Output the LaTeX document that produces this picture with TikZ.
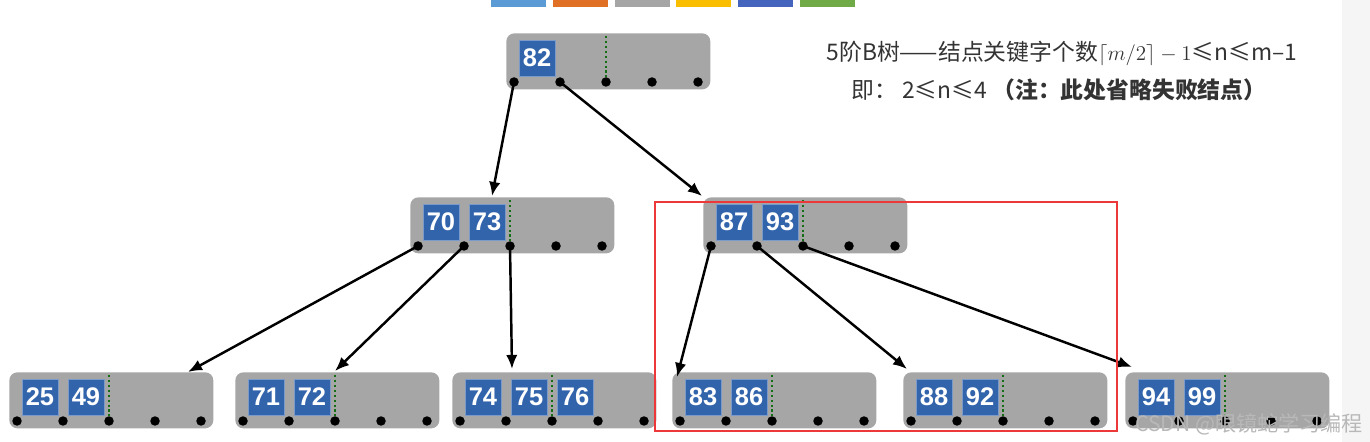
\documentclass[tikz,border=0pt]{standalone}
\usepackage{fontspec}
\setmainfont{Liberation Sans}
\newfontfamily\cjk{Noto Sans CJK SC}
\usepackage{tikz}
\usetikzlibrary{arrows.meta}

\definecolor{keyblue}{RGB}{50,100,172}
\definecolor{nodegray}{RGB}{166,166,166}
\definecolor{halfgreen}{RGB}{20,110,20}
\definecolor{boxred}{RGB}{236,56,56}
\definecolor{barblue}{RGB}{91,155,213}
\definecolor{barorange}{RGB}{224,112,36}
\definecolor{bargray}{RGB}{165,165,165}
\definecolor{baryellow}{RGB}{250,190,0}
\definecolor{bardarkblue}{RGB}{68,100,190}
\definecolor{bargreen}{RGB}{112,170,70}

\begin{document}
\begin{tikzpicture}[x=0.02cm, y=-0.02cm, >={Latex[length=8pt,width=6.5pt]},
  tnode/.style={fill=nodegray, rounded corners=0.16cm, anchor=north west,
    minimum width=4.08cm, minimum height=1.12cm, inner sep=0pt},
  key/.style={fill=keyblue, draw=keyblue!65!white, line width=0.4pt,
    minimum size=0.72cm, inner sep=0pt, text=white,
    font=\bfseries\fontsize{14.5}{14.5}\selectfont},
  dot/.style={circle, fill=black, minimum size=0.19cm, inner sep=0pt},
  half/.style={draw=halfgreen, line width=1.5pt, dash pattern=on 1.3pt off 1.5pt},
  link/.style={->, line width=1.4pt}]
\useasboundingbox (0,0) rectangle (1370,442);
\fill[black!4] (1342,0) rectangle (1370,442);

% colour strip at the top
\foreach \c [count=\i] in {barblue,barorange,bargray,baryellow,bardarkblue,bargreen}
  \fill[\c] (491+61.8*\i-61.8,0) rectangle +(55,7);

% tree nodes: name / left / top / keys
\foreach \n/\x/\y/\ks in {root/506/33/{82}, mid_left/410/197/{70,73},
    mid_right/703/197/{87,93}, leaf_1/9/372/{25,49}, leaf_2/235/372/{71,72},
    leaf_3/452/372/{74,75,76}, leaf_4/672/372/{83,86}, leaf_5/903/372/{88,92},
    leaf_6/1125/372/{94,99}} {
  \node[name=\n, tnode] at (\x,\y) {};
  \foreach \i in {1,...,5}
    \node[name=\n_p\i, dot] at (\x+8+46*\i-46,\y+49) {};
  \draw[half] (\x+100,\y+3) -- (\n_p3.north);
  \foreach \k [count=\j] in \ks
    \node[name=key_\k, key] at (\x+31+46*\j-46,\y+25) {\k};
}

% arrow ends on the children
\coordinate (in_mid_left) at (492,196);
\coordinate (in_mid_right) at (702,196);
\coordinate (in_leaf_1) at (188,372);
\coordinate (in_leaf_2) at (335,371);
\coordinate (in_leaf_3) at (512,369);
\coordinate (in_leaf_4) at (677,377);
\coordinate (in_leaf_5) at (907,369);
\coordinate (in_leaf_6) at (1132,367);

\draw[link] (root_p1.center) -- (in_mid_left);
\draw[link] (root_p2.center) -- (in_mid_right);
\draw[link] (mid_left_p1.center) -- (in_leaf_1);
\draw[link] (mid_left_p2.center) -- (in_leaf_2);
\draw[link] (mid_left_p3.center) -- (in_leaf_3);
\draw[link] (mid_right_p1.center) -- (in_leaf_4);
\draw[link] (mid_right_p2.center) -- (in_leaf_5);
\draw[link] (mid_right_p3.center) -- (in_leaf_6);

% the marked subtree
\draw[boxred, line width=1.2pt] (655,202) rectangle (1117,431);

\node[name=rule_1, font=\cjk\fontsize{13}{16}\selectfont, text=black!80] at (1062,53)
  {5阶B树——结点关键字个数$\lceil m/2\rceil - 1$≤n≤m–1};
\node[name=rule_2, font=\cjk\fontsize{13}{16}\selectfont, text=black!80] at (1059,90)
  {即： 2≤n≤4 {\bfseries （注：此处省略失败结点）}};

\node[name=mark, font=\cjk\fontsize{12}{14}\selectfont, text=white!72!black] at (1249,424)
  {CSDN @眼镜蛇学习编程};
\end{tikzpicture}
\end{document}
